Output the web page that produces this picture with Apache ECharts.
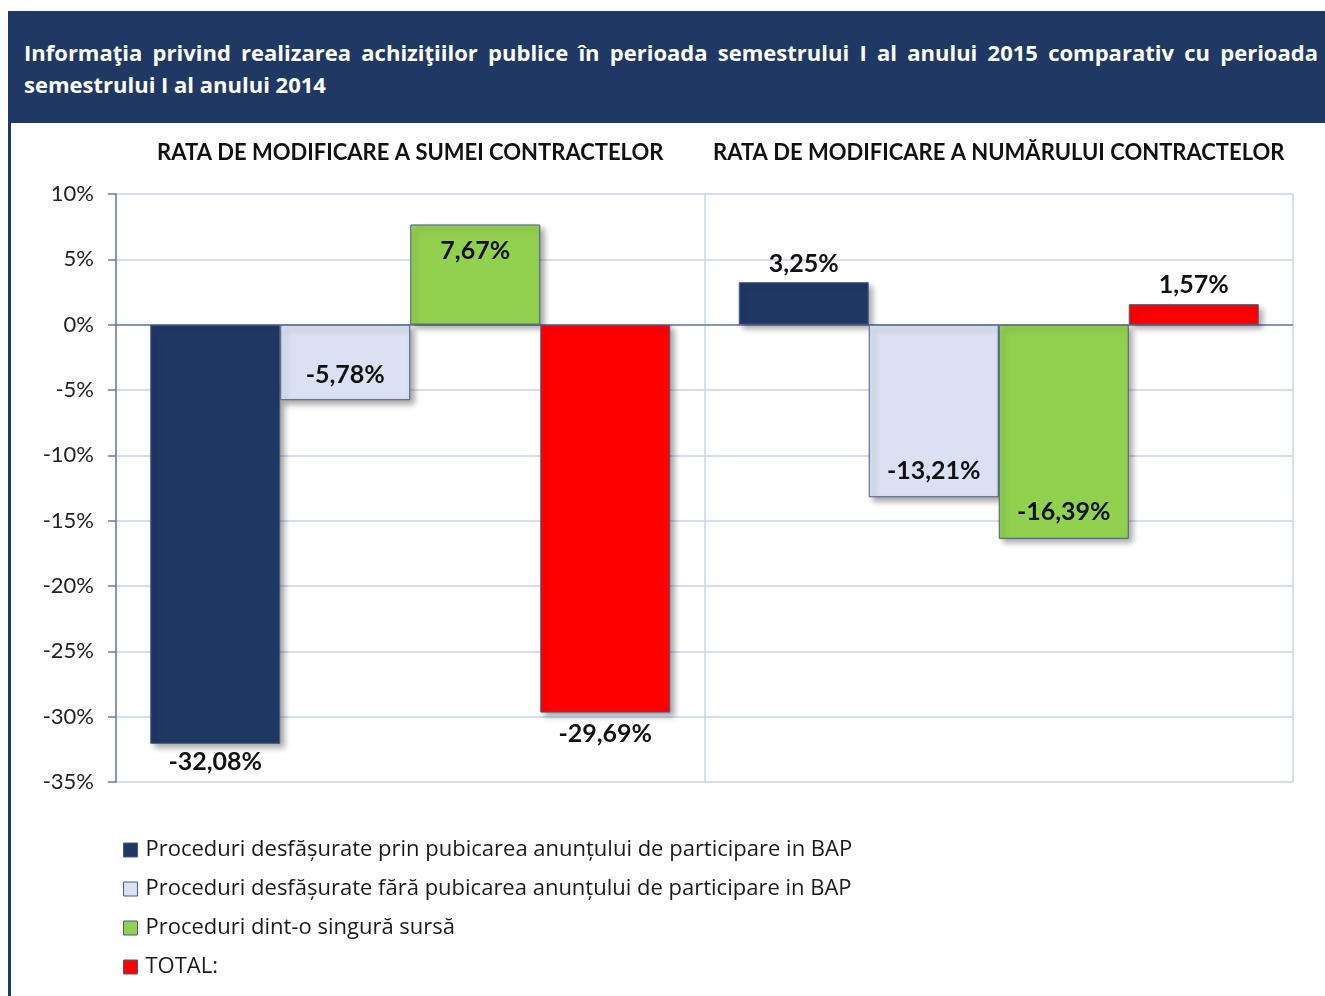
<!DOCTYPE html>
<html>
<head>
<meta charset="utf-8">
<script src="https://cdn.jsdelivr.net/npm/echarts@6/dist/echarts.min.js"></script>
<style>
  html, body { margin: 0; padding: 0; background: #fff; }
  #wrap { position: relative; width: 1325px; height: 996px; overflow: hidden; }
  #chart { position: absolute; left: 0; top: 0; width: 1325px; height: 996px; }
  #header {
    position: absolute; left: 8px; top: 11px; width: 1317px; height: 112px;
    background: #203864; box-sizing: border-box; padding: 25px 7px 0 16px;
    color: #fff; font-family: 'Open Sans', Lato, sans-serif; font-weight: bold;
    font-size: 22px; line-height: 32px;
  }
  #header .l1 { display: block; text-align: justify; text-align-last: justify; }
  #header .l2 { display: block; }
  #leftline { position: absolute; left: 8px; top: 11px; width: 3px; height: 985px; background: #203864; }
</style>
</head>
<body>
<div id="wrap">
  <div id="chart"></div>
  <div id="leftline"></div>
  <div id="header"><span class="l1">Informaţia privind realizarea achiziţiilor publice în perioada semestrului I al anului 2015 comparativ cu perioada</span><span class="l2">semestrului I al anului 2014</span></div>
</div>
<script>
const categories = ['RATA DE MODIFICARE A SUMEI CONTRACTELOR', 'RATA DE MODIFICARE A NUMĂRULUI CONTRACTELOR'];
const seriesNames = [
  'Proceduri desfășurate prin pubicarea anunțului de participare in BAP',
  'Proceduri desfășurate fără pubicarea anunțului de participare in BAP',
  'Proceduri dint-o singură sursă',
  'TOTAL:'
];
const publicateValues = [-32.08, 3.25];
const faraValues = [-5.78, -13.21];
const singuraValues = [7.67, -16.39];
const totalValues = [-29.69, 1.57];
const yTicks = [-35, -30, -25, -20, -15, -10, -5, 0, 5, 10];

const seriesValues = [publicateValues, faraValues, singuraValues, totalValues];
const seriesColors = ['#203864', '#D9E1F2', '#92D050', '#FF0000'];

// Excel-like label placement (outside end vs inside end)
const labelPlace = [
  [['bottom', 6], ['top', 6]],
  [['insideBottom', 13], ['insideBottom', 14]],
  [['insideTop', 14], ['insideBottom', 14]],
  [['bottom', 9], ['top', 7]]
];

const fmt = (v) => v.toFixed(2).replace('.', ',') + '%';

const chart = echarts.init(document.getElementById('chart'));

const series = seriesValues.map((vals, si) => ({
  name: seriesNames[si],
  type: 'bar',
  barWidth: 130,
  barGap: '0%',
  itemStyle: {
    color: seriesColors[si],
    borderColor: '#4A5C82',
    borderWidth: 1,
    shadowBlur: 6,
    shadowOffsetX: 4,
    shadowOffsetY: 4,
    shadowColor: 'rgba(0,0,0,0.35)'
  },
  data: vals.map((v, i) => ({
    value: v,
    label: {
      show: true,
      position: labelPlace[si][i][0],
      distance: labelPlace[si][i][1],
      formatter: () => fmt(v),
      fontFamily: 'Lato, sans-serif',
      fontWeight: 'bold',
      fontSize: 25,
      color: '#111'
    }
  })),
  markLine: si === 0 ? {
    silent: true,
    symbol: 'none',
    label: { show: false },
    lineStyle: { color: '#6E7EA0', width: 1.5, type: 'solid' },
    data: [{ yAxis: 0 }],
    z: 1
  } : undefined
}));

chart.setOption({
  animation: false,
  backgroundColor: 'transparent',
  textStyle: { fontFamily: 'Lato, sans-serif' },
  grid: { left: 116, right: 32, top: 194, bottom: 214 },
  legend: {
    data: seriesNames,
    orient: 'vertical',
    left: 118,
    top: 834,
    itemWidth: 14,
    itemHeight: 14,
    itemGap: 17,
    icon: 'rect',
    selectedMode: false,
    itemStyle: { borderColor: '#4A5C82', borderWidth: 1, shadowBlur: 0, shadowOffsetX: 0, shadowOffsetY: 0 },
    textStyle: { fontFamily: "'Open Sans', sans-serif", fontSize: 22, color: '#1a1a1a', padding: [0, 0, 0, 3] }
  },
  xAxis: {
    type: 'category',
    data: categories,
    position: 'top',
    axisLine: { show: false, onZero: false },
    axisTick: { show: false },
    axisLabel: { interval: 0, fontSize: 22, fontWeight: 'bold', color: '#111', margin: 30 },
    splitLine: { show: true, lineStyle: { color: '#C9D5EC', width: 1.5 } }
  },
  yAxis: {
    type: 'value',
    min: yTicks[0],
    max: yTicks[yTicks.length - 1],
    interval: 5,
    axisLine: { show: true, lineStyle: { color: '#6E7EA0', width: 1.5 } },
    axisTick: { show: true, length: 8, lineStyle: { color: '#6E7EA0', width: 1.5 } },
    axisLabel: { fontSize: 22, color: '#222', margin: 22, formatter: (v) => v + '%' },
    splitLine: { show: true, lineStyle: { color: '#C9D5EC', width: 1.5 } }
  },
  series: series
});
</script>
</body>
</html>
